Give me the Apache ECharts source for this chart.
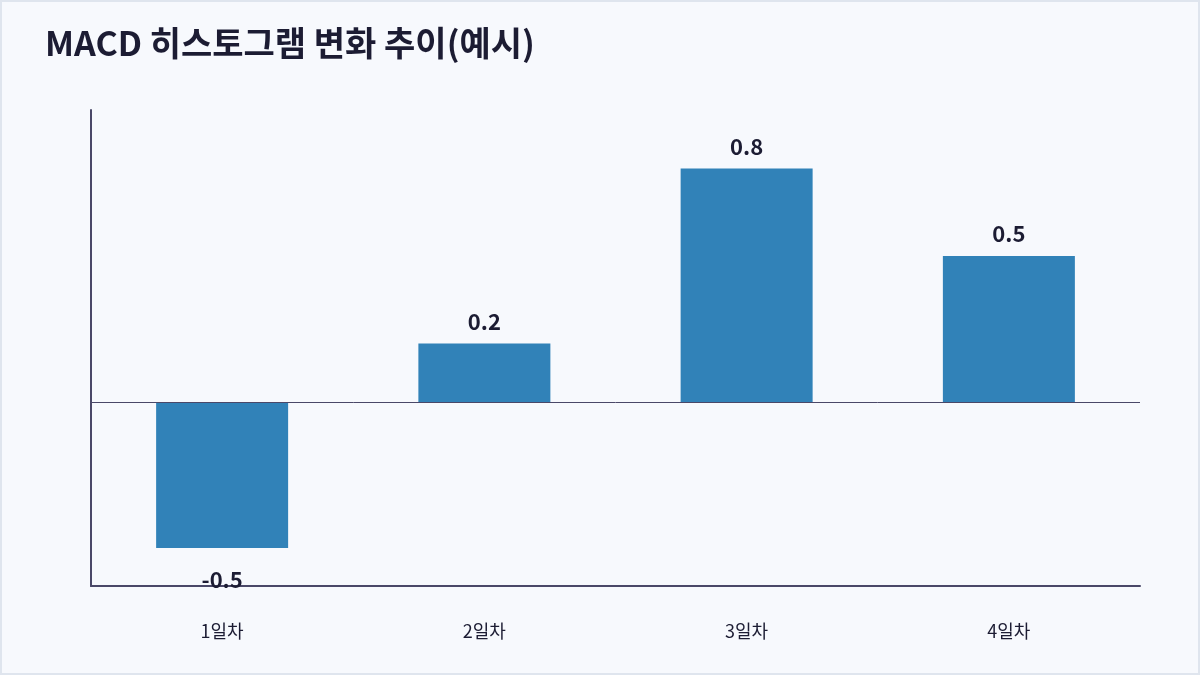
<!DOCTYPE html>
<html>
<head>
<meta charset="utf-8">
<script src="https://cdn.jsdelivr.net/npm/echarts@6/dist/echarts.min.js"></script>
<style>
  html, body { margin: 0; padding: 0; background: #f7f9fd; }
  #chart { width: 1200px; height: 675px; }
  #frame { position: absolute; left: 0; top: 0; width: 1200px; height: 675px;
           box-sizing: border-box; border: 2px solid #dfe5ee; pointer-events: none; }
</style>
</head>
<body>
<div id="chart"></div>
<div id="frame"></div>
<script>
var categories = ['1일차', '2일차', '3일차', '4일차'];
var histValues = [-0.5, 0.2, 0.8, 0.5];

var textColor = '#1c1c33';
var axisColor = '#4a4868';

var chart = echarts.init(document.getElementById('chart'));

var option = {
  backgroundColor: '#f7f9fd',
  textStyle: { fontFamily: '"Noto Sans CJK KR", "Noto Sans", sans-serif' },
  title: {
    text: 'MACD 히스토그램 변화 추이(예시)',
    left: 40,
    top: 21,
    textStyle: { fontSize: 34, fontWeight: 'bold', color: textColor }
  },
  grid: { left: 91, right: 60, top: 110, bottom: 89 },
  xAxis: {
    type: 'category',
    data: categories,
    axisLine: { onZero: false, lineStyle: { color: axisColor, width: 2 } },
    axisTick: { show: false },
    axisLabel: { color: textColor, fontSize: 18, margin: 36 }
  },
  yAxis: {
    type: 'value',
    min: -0.63,
    max: 1.0,
    axisLine: { show: true, lineStyle: { color: axisColor, width: 2 } },
    axisTick: { show: false },
    axisLabel: { show: false },
    splitLine: { show: false }
  },
  series: [{
    type: 'bar',
    barWidth: 132,
    itemStyle: { color: '#3182b8' },
    label: {
      show: true,
      position: 'top',
      distance: 11,
      color: textColor,
      fontSize: 22,
      fontWeight: 'bold'
    },
    data: histValues.map(function (v) {
      if (v < 0) {
        return { value: v, label: { position: 'bottom', distance: 21 } };
      }
      return v;
    }),
    markLine: {
      silent: true,
      symbol: 'none',
      label: { show: false },
      lineStyle: { color: axisColor, width: 1, type: 'solid' },
      data: [{ yAxis: 0 }]
    }
  }]
};

chart.setOption(option);
</script>
</body>
</html>
